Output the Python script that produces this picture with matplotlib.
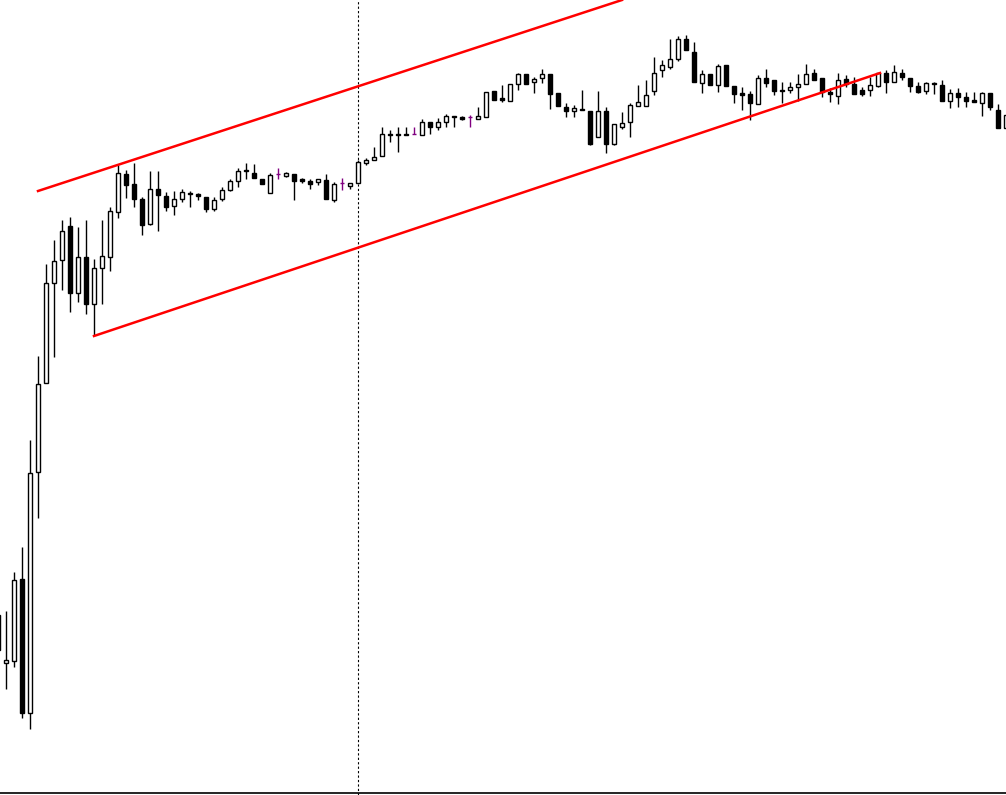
import matplotlib
matplotlib.use("Agg")
import matplotlib.pyplot as plt
import numpy as np

# valeurs, en pixels (y vers le bas) ; converties en prix plus bas
ouv = [650, 663, 661, 579, 713, 472, 383, 283, 260, 226, 293, 257, 304, 268, 257, 212, 174, 184, 199, 224,
       189, 196, 206, 199, 193, 194, 197, 209, 199, 190, 181, 170, 173, 179, 193, 174, 176, 174, 179, 181,
       182, 180, 200, 183, 186, 183, 163, 160, 156, 134, 134, 134, 134, 135, 122, 127, 122, 116, 117, 117,
       119, 117, 91, 98, 101, 84, 74, 82, 78, 74, 93, 107, 111, 109, 111, 137, 111, 144, 127, 122,
       106, 106, 91, 70, 67, 59, 39, 52, 83, 74, 85, 65, 86, 93, 94, 104, 78, 80, 90, 90,
       87, 84, 73, 78, 92, 96, 79, 84, 90, 90, 86, 73, 82, 73, 78, 86, 91, 83, 85, 101,
       93, 97, 100, 103, 93, 110, 128]
haut = [605, 611, 572, 547, 440, 356, 264, 240, 220, 217, 227, 220, 259, 220, 207, 165, 170, 163, 197, 171,
        171, 192, 191, 189, 191, 193, 197, 197, 187, 179, 168, 163, 164, 179, 173, 168, 172, 174, 178, 179,
        179, 174, 182, 178, 183, 160, 158, 147, 127, 130, 127, 127, 127, 119, 122, 118, 114, 116, 116, 115,
        107, 92, 91, 85, 84, 73, 74, 77, 69, 74, 93, 103, 105, 90, 111, 91, 107, 124, 112, 103,
        85, 80, 57, 60, 39, 36, 35, 42, 70, 74, 64, 65, 86, 87, 91, 75, 69, 80, 82, 82,
        74, 64, 69, 78, 88, 73, 75, 77, 87, 77, 73, 70, 65, 69, 78, 82, 82, 82, 80, 89,
        88, 92, 92, 92, 93, 104, 115]
bas = [665, 689, 667, 718, 729, 518, 383, 357, 290, 312, 302, 314, 335, 304, 271, 218, 198, 207, 235, 225,
       231, 211, 215, 202, 207, 200, 212, 211, 201, 191, 187, 179, 178, 184, 193, 179, 177, 200, 183, 189,
       185, 199, 202, 190, 189, 183, 165, 160, 156, 142, 152, 134, 134, 135, 134, 130, 127, 127, 120, 127,
       119, 117, 100, 102, 101, 90, 84, 93, 83, 109, 106, 117, 117, 110, 145, 137, 153, 145, 129, 137,
       106, 106, 95, 77, 69, 61, 50, 82, 93, 85, 92, 86, 103, 110, 120, 104, 87, 95, 103, 93,
       101, 84, 80, 97, 102, 104, 87, 94, 96, 96, 87, 93, 82, 80, 92, 93, 94, 94, 101, 108,
       107, 107, 102, 116, 110, 128, 128]
ferm = [615, 660, 580, 713, 473, 384, 283, 261, 231, 293, 257, 304, 268, 256, 211, 173, 185, 199, 225, 189,
        195, 207, 199, 192, 194, 196, 209, 200, 190, 181, 171, 171, 178, 184, 175, 174, 173, 181, 181, 184,
        179, 199, 184, 183, 183, 162, 160, 157, 134, 135, 135, 135, 134, 122, 127, 122, 116, 117, 119, 117,
        116, 92, 100, 100, 84, 74, 84, 79, 74, 94, 106, 111, 108, 110, 144, 111, 144, 124, 123, 105,
        102, 95, 73, 65, 59, 39, 50, 82, 74, 85, 66, 86, 94, 95, 103, 78, 83, 91, 91, 87,
        84, 74, 80, 92, 94, 80, 84, 94, 94, 85, 73, 82, 72, 77, 86, 92, 83, 84, 101, 93,
        97, 101, 102, 93, 107, 128, 115]

# canal (deux droites), extrémités : (indice bougie, pixel y)
canal_haut = [(4.0, 191), (77.0, 0)]
canal_bas = [(11.0, 336), (109.25, 73)]
ligne_verticale = 44

def prix(v):
    return 800 - np.array(v, dtype=float)

o, h, l, c = prix(ouv), prix(haut), prix(bas), prix(ferm)
idx = np.arange(len(o)) - 1

fig = plt.figure(figsize=(10.06, 7.95), dpi=100)
ax = fig.add_axes([0, 0, 1, 1])

for i in range(len(o)):
    x = idx[i]
    if o[i] == c[i]:
        col = "#800080"
        ax.vlines(x, l[i], h[i], color=col, lw=1, zorder=2)
        ax.hlines(o[i], x - 0.3, x + 0.3, color=col, lw=1, zorder=2)
        continue
    ax.vlines(x, l[i], h[i], color="black", lw=1, zorder=2)
    face = "white" if c[i] > o[i] else "black"
    ax.bar(x, abs(c[i] - o[i]), bottom=min(o[i], c[i]), width=0.6,
           facecolor=face, edgecolor="black", lw=1, zorder=3)

for seg in (canal_haut, canal_bas):
    xs = [p[0] for p in seg]
    ys = prix([p[1] for p in seg])
    ax.plot(xs, ys, color="#ff0000", lw=1.8, zorder=4)

ax.axvline(ligne_verticale, color="black", lw=0.8, ls=(0, (2, 2)), zorder=1)
ax.axhline(prix([793])[0], color="black", lw=1.2)

ax.set_xlim(-0.75, 125.0)
ax.set_ylim(5, 800)
ax.axis("off")

fig.savefig("out.png", dpi=100)
